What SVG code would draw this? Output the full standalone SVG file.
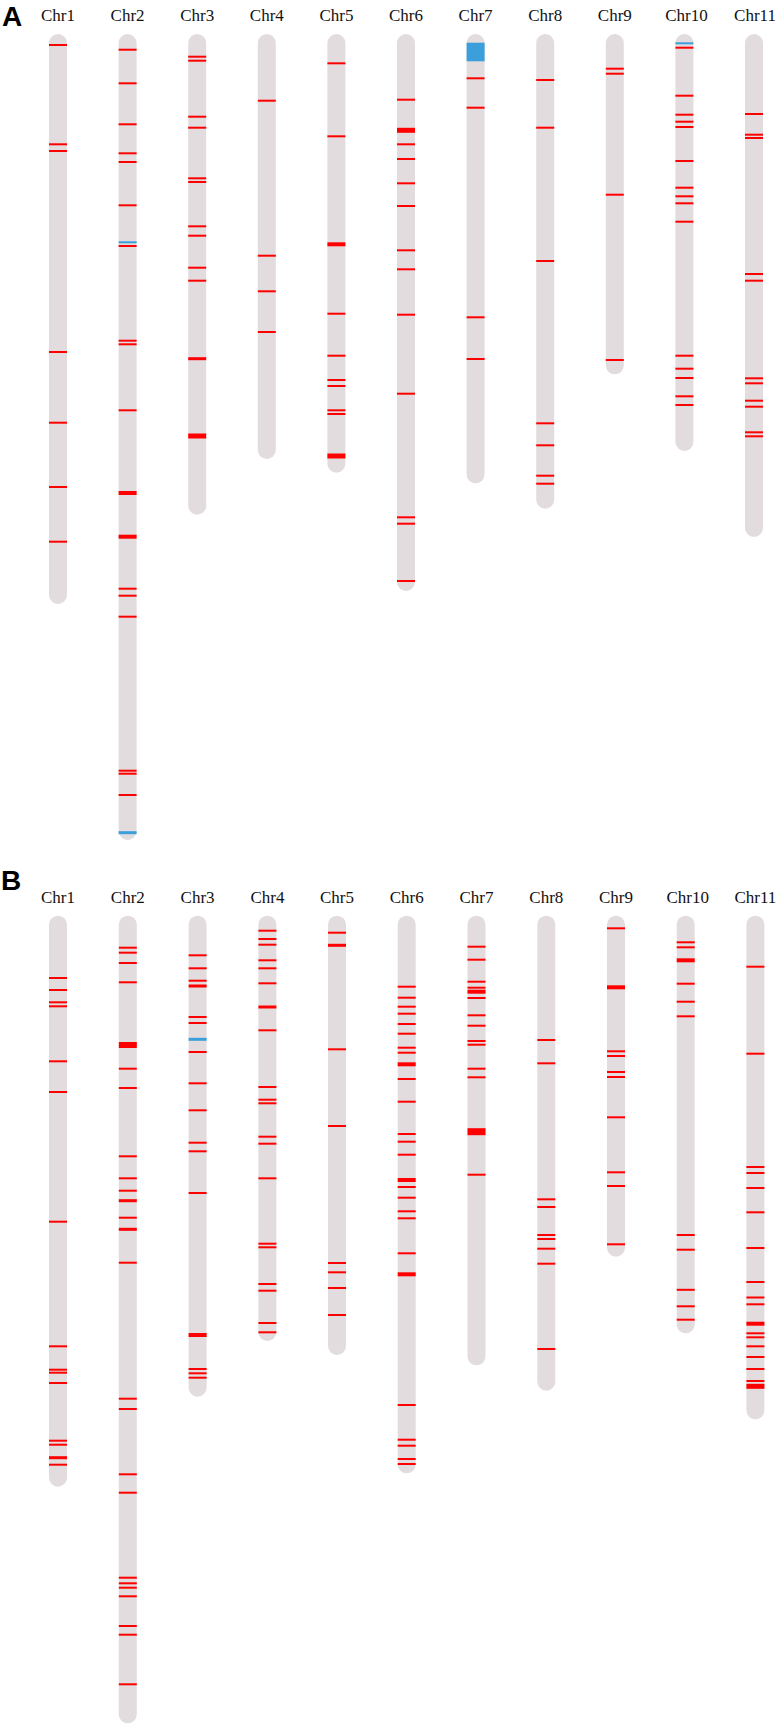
<svg xmlns="http://www.w3.org/2000/svg" width="780" height="1727" viewBox="0 0 780 1727">
<style>
.bg{fill:#ffffff}
.chr{fill:#e3dcde}
.r{fill:#ff0000}
.u{fill:#3a9fdb}
.lbl{font-family:"Liberation Serif","Times New Roman",serif;font-size:17px;fill:#111;text-anchor:middle}
.pan{font-family:"Liberation Sans",Arial,sans-serif;font-size:28px;font-weight:bold;fill:#000}
</style>
<rect class="bg" x="0" y="0" width="780" height="1727"/>
<g id="panelA">
<text class="pan" x="2" y="26">A</text>
<g id="A-chr1" transform="translate(58,0)"><text class="lbl" x="0" y="20.5">Chr1</text><rect class="chr" x="-9" y="34" width="18" height="570" rx="9"/>
<rect class="r" x="-9" y="44" width="18" height="2"/><rect class="r" x="-9" y="143.3" width="18" height="2"/><rect class="r" x="-9" y="150" width="18" height="2"/><rect class="r" x="-9" y="351" width="18" height="2"/><rect class="r" x="-9" y="421.7" width="18" height="2"/><rect class="r" x="-9" y="486" width="18" height="2"/><rect class="r" x="-9" y="540.7" width="18" height="2"/></g>
<g id="A-chr2" transform="translate(127.6,0)"><text class="lbl" x="0" y="20.5">Chr2</text><rect class="chr" x="-9" y="34" width="18" height="806" rx="9"/>
<rect class="r" x="-9" y="48.7" width="18" height="2"/><rect class="r" x="-9" y="82.3" width="18" height="2"/><rect class="r" x="-9" y="123.3" width="18" height="2"/><rect class="r" x="-9" y="152.3" width="18" height="2"/><rect class="r" x="-9" y="161" width="18" height="2"/><rect class="r" x="-9" y="204.3" width="18" height="2"/><rect class="u" x="-9" y="241.3" width="18" height="2"/><rect class="r" x="-9" y="245" width="18" height="2"/><rect class="r" x="-9" y="339.7" width="18" height="2"/><rect class="r" x="-9" y="343.3" width="18" height="2"/><rect class="r" x="-9" y="409.3" width="18" height="2"/><rect class="r" x="-9" y="491" width="18" height="4"/><rect class="r" x="-9" y="534.7" width="18" height="4"/><rect class="r" x="-9" y="587.7" width="18" height="2"/><rect class="r" x="-9" y="594.7" width="18" height="2"/><rect class="r" x="-9" y="615.7" width="18" height="2"/><rect class="r" x="-9" y="769.7" width="18" height="2"/><rect class="r" x="-9" y="772.7" width="18" height="2"/><rect class="r" x="-9" y="794" width="18" height="2"/><rect class="u" x="-9" y="831.2" width="18" height="3"/></g>
<g id="A-chr3" transform="translate(197.2,0)"><text class="lbl" x="0" y="20.5">Chr3</text><rect class="chr" x="-9" y="34" width="18" height="480.7" rx="9"/>
<rect class="r" x="-9" y="55.7" width="18" height="2"/><rect class="r" x="-9" y="59.7" width="18" height="2"/><rect class="r" x="-9" y="115.7" width="18" height="2"/><rect class="r" x="-9" y="126.7" width="18" height="2"/><rect class="r" x="-9" y="177.3" width="18" height="2"/><rect class="r" x="-9" y="181" width="18" height="2"/><rect class="r" x="-9" y="225.3" width="18" height="2"/><rect class="r" x="-9" y="234.7" width="18" height="2"/><rect class="r" x="-9" y="266.7" width="18" height="2"/><rect class="r" x="-9" y="279.7" width="18" height="2"/><rect class="r" x="-9" y="357.2" width="18" height="3"/><rect class="r" x="-9" y="433.5" width="18" height="5"/></g>
<g id="A-chr4" transform="translate(266.8,0)"><text class="lbl" x="0" y="20.5">Chr4</text><rect class="chr" x="-9" y="34" width="18" height="425" rx="9"/>
<rect class="r" x="-9" y="99.7" width="18" height="2"/><rect class="r" x="-9" y="254.7" width="18" height="2"/><rect class="r" x="-9" y="290.3" width="18" height="2"/><rect class="r" x="-9" y="331" width="18" height="2"/></g>
<g id="A-chr5" transform="translate(336.4,0)"><text class="lbl" x="0" y="20.5">Chr5</text><rect class="chr" x="-9" y="34" width="18" height="438.7" rx="9"/>
<rect class="r" x="-9" y="62.3" width="18" height="2"/><rect class="r" x="-9" y="135.3" width="18" height="2"/><rect class="r" x="-9" y="242.3" width="18" height="4"/><rect class="r" x="-9" y="312.7" width="18" height="2"/><rect class="r" x="-9" y="354.7" width="18" height="2"/><rect class="r" x="-9" y="379" width="18" height="2"/><rect class="r" x="-9" y="385" width="18" height="2"/><rect class="r" x="-9" y="409.3" width="18" height="2"/><rect class="r" x="-9" y="413" width="18" height="2"/><rect class="r" x="-9" y="453.5" width="18" height="5"/></g>
<g id="A-chr6" transform="translate(406,0)"><text class="lbl" x="0" y="20.5">Chr6</text><rect class="chr" x="-9" y="34" width="18" height="557" rx="9"/>
<rect class="r" x="-9" y="98.7" width="18" height="2"/><rect class="r" x="-9" y="127.8" width="18" height="5"/><rect class="r" x="-9" y="143.3" width="18" height="2"/><rect class="r" x="-9" y="158" width="18" height="2"/><rect class="r" x="-9" y="182.3" width="18" height="2"/><rect class="r" x="-9" y="205" width="18" height="2"/><rect class="r" x="-9" y="249.3" width="18" height="2"/><rect class="r" x="-9" y="268.3" width="18" height="2"/><rect class="r" x="-9" y="313.7" width="18" height="2"/><rect class="r" x="-9" y="392.7" width="18" height="2"/><rect class="r" x="-9" y="516.3" width="18" height="2"/><rect class="r" x="-9" y="522.7" width="18" height="2"/><rect class="r" x="-9" y="580" width="18" height="2"/></g>
<g id="A-chr7" transform="translate(475.6,0)"><text class="lbl" x="0" y="20.5">Chr7</text><rect class="chr" x="-9" y="34" width="18" height="449.3" rx="9"/>
<rect class="u" x="-9" y="42.7" width="18" height="18.6"/><rect class="r" x="-9" y="77.3" width="18" height="2"/><rect class="r" x="-9" y="106.7" width="18" height="2"/><rect class="r" x="-9" y="316.3" width="18" height="2"/><rect class="r" x="-9" y="358" width="18" height="2"/></g>
<g id="A-chr8" transform="translate(545.2,0)"><text class="lbl" x="0" y="20.5">Chr8</text><rect class="chr" x="-9" y="34" width="18" height="474.7" rx="9"/>
<rect class="r" x="-9" y="79" width="18" height="2"/><rect class="r" x="-9" y="126.7" width="18" height="2"/><rect class="r" x="-9" y="260" width="18" height="2"/><rect class="r" x="-9" y="422.3" width="18" height="2"/><rect class="r" x="-9" y="444.3" width="18" height="2"/><rect class="r" x="-9" y="474.7" width="18" height="2"/><rect class="r" x="-9" y="482.7" width="18" height="2"/></g>
<g id="A-chr9" transform="translate(614.8,0)"><text class="lbl" x="0" y="20.5">Chr9</text><rect class="chr" x="-9" y="34" width="18" height="340.3" rx="9"/>
<rect class="r" x="-9" y="67.7" width="18" height="2"/><rect class="r" x="-9" y="72.7" width="18" height="2"/><rect class="r" x="-9" y="193.7" width="18" height="2"/><rect class="r" x="-9" y="359" width="18" height="2"/></g>
<g id="A-chr10" transform="translate(684.4,0)"><text class="lbl" x="2" y="20.5">Chr10</text><rect class="chr" x="-9" y="34" width="18" height="417" rx="9"/>
<rect class="u" x="-9" y="42.3" width="18" height="2"/><rect class="r" x="-9" y="46.7" width="18" height="2"/><rect class="r" x="-9" y="94.7" width="18" height="2"/><rect class="r" x="-9" y="113.7" width="18" height="2"/><rect class="r" x="-9" y="120.7" width="18" height="2"/><rect class="r" x="-9" y="126" width="18" height="2"/><rect class="r" x="-9" y="160" width="18" height="2"/><rect class="r" x="-9" y="186.7" width="18" height="2"/><rect class="r" x="-9" y="195.3" width="18" height="2"/><rect class="r" x="-9" y="202.3" width="18" height="2"/><rect class="r" x="-9" y="220.7" width="18" height="2"/><rect class="r" x="-9" y="354.7" width="18" height="2"/><rect class="r" x="-9" y="367.7" width="18" height="2"/><rect class="r" x="-9" y="377" width="18" height="2"/><rect class="r" x="-9" y="395.3" width="18" height="2"/><rect class="r" x="-9" y="404" width="18" height="2"/></g>
<g id="A-chr11" transform="translate(754,0)"><text class="lbl" x="1" y="20.5">Chr11</text><rect class="chr" x="-9" y="34" width="18" height="503" rx="9"/>
<rect class="r" x="-9" y="113" width="18" height="2"/><rect class="r" x="-9" y="133.7" width="18" height="2"/><rect class="r" x="-9" y="137" width="18" height="2"/><rect class="r" x="-9" y="273" width="18" height="2"/><rect class="r" x="-9" y="279.7" width="18" height="2"/><rect class="r" x="-9" y="377.3" width="18" height="2"/><rect class="r" x="-9" y="382.3" width="18" height="2"/><rect class="r" x="-9" y="399.7" width="18" height="2"/><rect class="r" x="-9" y="405.7" width="18" height="2"/><rect class="r" x="-9" y="431.3" width="18" height="2"/><rect class="r" x="-9" y="435.3" width="18" height="2"/></g>
</g>
<g id="panelB">
<text class="pan" x="1" y="890">B</text>
<g id="B-chr1" transform="translate(58,0)"><text class="lbl" x="0" y="902.5">Chr1</text><rect class="chr" x="-9" y="915.7" width="18" height="571" rx="9"/>
<rect class="r" x="-9" y="977" width="18" height="2"/><rect class="r" x="-9" y="989" width="18" height="2"/><rect class="r" x="-9" y="1001.3" width="18" height="2"/><rect class="r" x="-9" y="1005.3" width="18" height="2"/><rect class="r" x="-9" y="1060.3" width="18" height="2"/><rect class="r" x="-9" y="1091" width="18" height="2"/><rect class="r" x="-9" y="1220.7" width="18" height="2"/><rect class="r" x="-9" y="1345.3" width="18" height="2"/><rect class="r" x="-9" y="1368.7" width="18" height="2"/><rect class="r" x="-9" y="1371.7" width="18" height="2"/><rect class="r" x="-9" y="1382" width="18" height="2"/><rect class="r" x="-9" y="1439.7" width="18" height="2"/><rect class="r" x="-9" y="1443.7" width="18" height="2"/><rect class="r" x="-9" y="1456.2" width="18" height="3"/><rect class="r" x="-9" y="1463.7" width="18" height="2"/></g>
<g id="B-chr2" transform="translate(127.8,0)"><text class="lbl" x="0" y="902.5">Chr2</text><rect class="chr" x="-9" y="915.7" width="18" height="807.6" rx="9"/>
<rect class="r" x="-9" y="946.7" width="18" height="2"/><rect class="r" x="-9" y="951.7" width="18" height="2"/><rect class="r" x="-9" y="962" width="18" height="2"/><rect class="r" x="-9" y="981.3" width="18" height="2"/><rect class="r" x="-9" y="1042" width="18" height="6"/><rect class="r" x="-9" y="1067.7" width="18" height="2"/><rect class="r" x="-9" y="1087" width="18" height="2"/><rect class="r" x="-9" y="1155.3" width="18" height="2"/><rect class="r" x="-9" y="1177.3" width="18" height="2"/><rect class="r" x="-9" y="1189.7" width="18" height="2"/><rect class="r" x="-9" y="1199.2" width="18" height="3"/><rect class="r" x="-9" y="1216.7" width="18" height="2"/><rect class="r" x="-9" y="1227.8" width="18" height="3"/><rect class="r" x="-9" y="1261.7" width="18" height="2"/><rect class="r" x="-9" y="1397.7" width="18" height="2"/><rect class="r" x="-9" y="1408" width="18" height="2"/><rect class="r" x="-9" y="1473.3" width="18" height="2"/><rect class="r" x="-9" y="1491.7" width="18" height="2"/><rect class="r" x="-9" y="1576.7" width="18" height="2"/><rect class="r" x="-9" y="1582.3" width="18" height="2"/><rect class="r" x="-9" y="1586.7" width="18" height="2"/><rect class="r" x="-9" y="1595.3" width="18" height="2"/><rect class="r" x="-9" y="1625" width="18" height="2"/><rect class="r" x="-9" y="1633.7" width="18" height="2"/><rect class="r" x="-9" y="1683.3" width="18" height="2"/></g>
<g id="B-chr3" transform="translate(197.6,0)"><text class="lbl" x="0" y="902.5">Chr3</text><rect class="chr" x="-9" y="915.7" width="18" height="481" rx="9"/>
<rect class="r" x="-9" y="954.3" width="18" height="2"/><rect class="r" x="-9" y="967.3" width="18" height="2"/><rect class="r" x="-9" y="979.7" width="18" height="2"/><rect class="r" x="-9" y="984.5" width="18" height="3"/><rect class="r" x="-9" y="1016" width="18" height="2"/><rect class="r" x="-9" y="1022" width="18" height="2"/><rect class="u" x="-9" y="1037.8" width="18" height="3"/><rect class="r" x="-9" y="1051" width="18" height="2"/><rect class="r" x="-9" y="1082.3" width="18" height="2"/><rect class="r" x="-9" y="1109.3" width="18" height="2"/><rect class="r" x="-9" y="1141.7" width="18" height="2"/><rect class="r" x="-9" y="1150.3" width="18" height="2"/><rect class="r" x="-9" y="1192" width="18" height="2"/><rect class="r" x="-9" y="1333" width="18" height="4"/><rect class="r" x="-9" y="1368" width="18" height="2"/><rect class="r" x="-9" y="1372.3" width="18" height="2"/><rect class="r" x="-9" y="1376.7" width="18" height="2"/></g>
<g id="B-chr4" transform="translate(267.4,0)"><text class="lbl" x="0" y="902.5">Chr4</text><rect class="chr" x="-9" y="915.7" width="18" height="425.3" rx="9"/>
<rect class="r" x="-9" y="929.7" width="18" height="2"/><rect class="r" x="-9" y="938" width="18" height="2"/><rect class="r" x="-9" y="943.7" width="18" height="2"/><rect class="r" x="-9" y="959.3" width="18" height="2"/><rect class="r" x="-9" y="967.3" width="18" height="2"/><rect class="r" x="-9" y="982.3" width="18" height="2"/><rect class="r" x="-9" y="1005.5" width="18" height="3"/><rect class="r" x="-9" y="1029.3" width="18" height="2"/><rect class="r" x="-9" y="1086" width="18" height="2"/><rect class="r" x="-9" y="1098.7" width="18" height="2"/><rect class="r" x="-9" y="1102.3" width="18" height="2"/><rect class="r" x="-9" y="1135.7" width="18" height="2"/><rect class="r" x="-9" y="1142.7" width="18" height="2"/><rect class="r" x="-9" y="1177.3" width="18" height="2"/><rect class="r" x="-9" y="1242.7" width="18" height="2"/><rect class="r" x="-9" y="1246.3" width="18" height="2"/><rect class="r" x="-9" y="1283" width="18" height="2"/><rect class="r" x="-9" y="1289.7" width="18" height="2"/><rect class="r" x="-9" y="1322" width="18" height="2"/><rect class="r" x="-9" y="1331.3" width="18" height="2"/></g>
<g id="B-chr5" transform="translate(337,0)"><text class="lbl" x="0" y="902.5">Chr5</text><rect class="chr" x="-9" y="915.7" width="18" height="439.3" rx="9"/>
<rect class="r" x="-9" y="931.7" width="18" height="2"/><rect class="r" x="-9" y="943.8" width="18" height="3"/><rect class="r" x="-9" y="1048.3" width="18" height="2"/><rect class="r" x="-9" y="1125" width="18" height="2"/><rect class="r" x="-9" y="1262" width="18" height="2"/><rect class="r" x="-9" y="1271.3" width="18" height="2"/><rect class="r" x="-9" y="1287" width="18" height="2"/><rect class="r" x="-9" y="1314" width="18" height="2"/></g>
<g id="B-chr6" transform="translate(406.7,0)"><text class="lbl" x="0" y="902.5">Chr6</text><rect class="chr" x="-9" y="915.7" width="18" height="557.6" rx="9"/>
<rect class="r" x="-9" y="985.7" width="18" height="2"/><rect class="r" x="-9" y="996.7" width="18" height="2"/><rect class="r" x="-9" y="1005.7" width="18" height="2"/><rect class="r" x="-9" y="1012.7" width="18" height="2"/><rect class="r" x="-9" y="1023" width="18" height="2"/><rect class="r" x="-9" y="1032.7" width="18" height="2"/><rect class="r" x="-9" y="1046.7" width="18" height="2"/><rect class="r" x="-9" y="1051.7" width="18" height="2"/><rect class="r" x="-9" y="1062.3" width="18" height="4"/><rect class="r" x="-9" y="1078" width="18" height="2"/><rect class="r" x="-9" y="1100.7" width="18" height="2"/><rect class="r" x="-9" y="1133" width="18" height="2"/><rect class="r" x="-9" y="1140.7" width="18" height="2"/><rect class="r" x="-9" y="1153.7" width="18" height="2"/><rect class="r" x="-9" y="1178" width="18" height="4"/><rect class="r" x="-9" y="1186" width="18" height="2"/><rect class="r" x="-9" y="1196.7" width="18" height="2"/><rect class="r" x="-9" y="1210.3" width="18" height="2"/><rect class="r" x="-9" y="1217.3" width="18" height="2"/><rect class="r" x="-9" y="1252.3" width="18" height="2"/><rect class="r" x="-9" y="1272.3" width="18" height="4"/><rect class="r" x="-9" y="1404" width="18" height="2"/><rect class="r" x="-9" y="1438.7" width="18" height="2"/><rect class="r" x="-9" y="1444.7" width="18" height="2"/><rect class="r" x="-9" y="1458" width="18" height="2"/><rect class="r" x="-9" y="1463" width="18" height="2"/></g>
<g id="B-chr7" transform="translate(476.5,0)"><text class="lbl" x="0" y="902.5">Chr7</text><rect class="chr" x="-9" y="915.7" width="18" height="449.6" rx="9"/>
<rect class="r" x="-9" y="945.7" width="18" height="2"/><rect class="r" x="-9" y="958.7" width="18" height="2"/><rect class="r" x="-9" y="980.7" width="18" height="2"/><rect class="r" x="-9" y="986.7" width="18" height="2"/><rect class="r" x="-9" y="989.7" width="18" height="4"/><rect class="r" x="-9" y="997" width="18" height="2"/><rect class="r" x="-9" y="1014.3" width="18" height="2"/><rect class="r" x="-9" y="1024.7" width="18" height="2"/><rect class="r" x="-9" y="1040" width="18" height="2"/><rect class="r" x="-9" y="1043.7" width="18" height="2"/><rect class="r" x="-9" y="1067.7" width="18" height="2"/><rect class="r" x="-9" y="1076.3" width="18" height="2"/><rect class="r" x="-9" y="1128.2" width="18" height="7"/><rect class="r" x="-9" y="1173.7" width="18" height="2"/></g>
<g id="B-chr8" transform="translate(546.3,0)"><text class="lbl" x="0" y="902.5">Chr8</text><rect class="chr" x="-9" y="915.7" width="18" height="475" rx="9"/>
<rect class="r" x="-9" y="1039" width="18" height="2"/><rect class="r" x="-9" y="1062.3" width="18" height="2"/><rect class="r" x="-9" y="1198.3" width="18" height="2"/><rect class="r" x="-9" y="1206" width="18" height="2"/><rect class="r" x="-9" y="1234" width="18" height="2"/><rect class="r" x="-9" y="1238" width="18" height="2"/><rect class="r" x="-9" y="1247.7" width="18" height="2"/><rect class="r" x="-9" y="1262.7" width="18" height="2"/><rect class="r" x="-9" y="1348" width="18" height="2"/></g>
<g id="B-chr9" transform="translate(616,0)"><text class="lbl" x="0" y="902.5">Chr9</text><rect class="chr" x="-9" y="915.7" width="18" height="341" rx="9"/>
<rect class="r" x="-9" y="927.3" width="18" height="2"/><rect class="r" x="-9" y="985.3" width="18" height="4"/><rect class="r" x="-9" y="1050.3" width="18" height="2"/><rect class="r" x="-9" y="1055" width="18" height="2"/><rect class="r" x="-9" y="1071" width="18" height="2"/><rect class="r" x="-9" y="1076" width="18" height="2"/><rect class="r" x="-9" y="1116.3" width="18" height="2"/><rect class="r" x="-9" y="1171.3" width="18" height="2"/><rect class="r" x="-9" y="1185" width="18" height="2"/><rect class="r" x="-9" y="1243.3" width="18" height="2"/></g>
<g id="B-chr10" transform="translate(685.7,0)"><text class="lbl" x="2" y="902.5">Chr10</text><rect class="chr" x="-9" y="915.7" width="18" height="417.6" rx="9"/>
<rect class="r" x="-9" y="941.3" width="18" height="2"/><rect class="r" x="-9" y="946.3" width="18" height="2"/><rect class="r" x="-9" y="958.3" width="18" height="4"/><rect class="r" x="-9" y="982.7" width="18" height="2"/><rect class="r" x="-9" y="1000.7" width="18" height="2"/><rect class="r" x="-9" y="1015.3" width="18" height="2"/><rect class="r" x="-9" y="1234" width="18" height="2"/><rect class="r" x="-9" y="1248.7" width="18" height="2"/><rect class="r" x="-9" y="1288.8" width="18" height="2"/><rect class="r" x="-9" y="1305.3" width="18" height="2"/><rect class="r" x="-9" y="1318.7" width="18" height="2"/></g>
<g id="B-chr11" transform="translate(755.4,0)"><text class="lbl" x="0" y="902.5">Chr11</text><rect class="chr" x="-9" y="915.7" width="18" height="503.6" rx="9"/>
<rect class="r" x="-9" y="965.7" width="18" height="2"/><rect class="r" x="-9" y="1052.7" width="18" height="2"/><rect class="r" x="-9" y="1166" width="18" height="2"/><rect class="r" x="-9" y="1172" width="18" height="2"/><rect class="r" x="-9" y="1187" width="18" height="2"/><rect class="r" x="-9" y="1211.3" width="18" height="2"/><rect class="r" x="-9" y="1247" width="18" height="2"/><rect class="r" x="-9" y="1281" width="18" height="2"/><rect class="r" x="-9" y="1296.5" width="18" height="2"/><rect class="r" x="-9" y="1303.3" width="18" height="2"/><rect class="r" x="-9" y="1321.7" width="18" height="4"/><rect class="r" x="-9" y="1332.3" width="18" height="2"/><rect class="r" x="-9" y="1336.3" width="18" height="2"/><rect class="r" x="-9" y="1345.3" width="18" height="2"/><rect class="r" x="-9" y="1356" width="18" height="2"/><rect class="r" x="-9" y="1368" width="18" height="2"/><rect class="r" x="-9" y="1380" width="18" height="2"/><rect class="r" x="-9" y="1383.8" width="18" height="5"/></g>
</g>
</svg>
